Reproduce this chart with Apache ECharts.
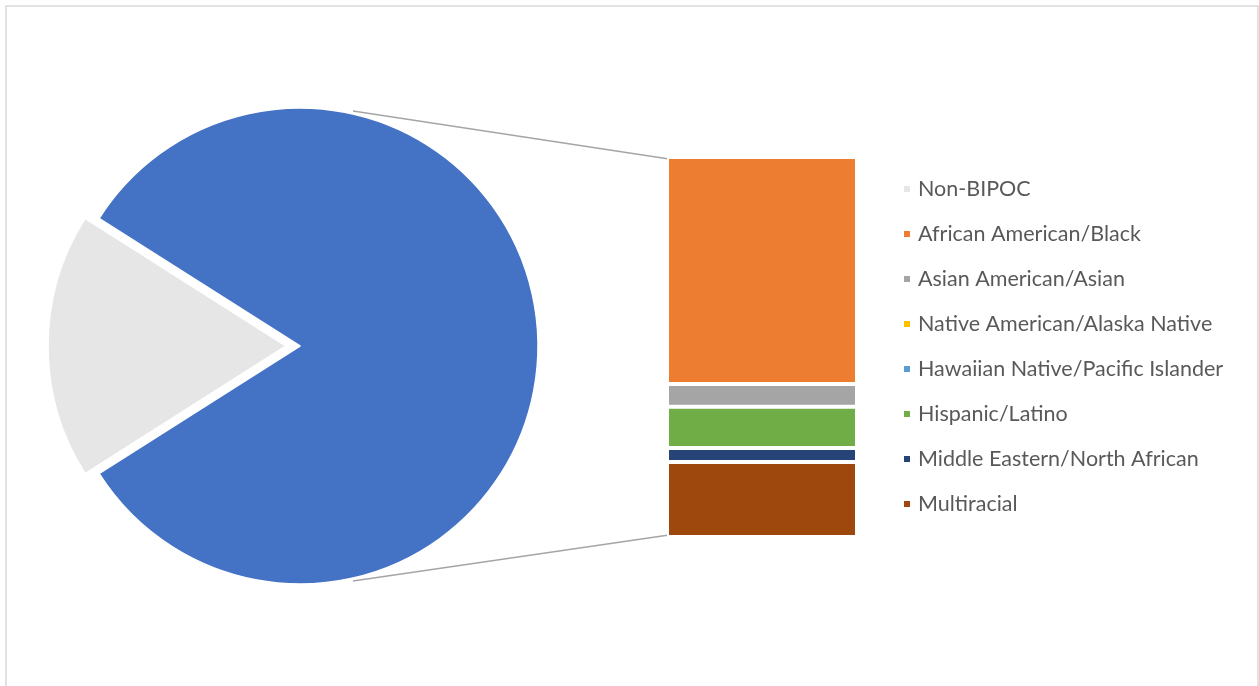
<!DOCTYPE html>
<html>
<head>
<meta charset="utf-8">
<script src="https://cdn.jsdelivr.net/npm/echarts@6/dist/echarts.min.js"></script>
<style>
  html, body { margin: 0; padding: 0; background: #fff; }
  #main { width: 1259px; height: 686px; }
</style>
</head>
<body>
<div id="main"></div>
<script>
// pie: Non-BIPOC vs the rest (the rest is split out in the bar)
var pieName = 'Non-BIPOC';
var pieValue = 18.0;

// bar of pie breakdown (percent)
var barNames = [
  'African American/Black',
  'Asian American/Asian',
  'Native American/Alaska Native',
  'Hawaiian Native/Pacific Islander',
  'Hispanic/Latino',
  'Middle Eastern/North African',
  'Multiracial'
];
var barValues = [49.0, 4.9, 0, 0, 8.9, 3.0, 16.2];
var barColors = ['#ED7D31', '#A5A5A5', '#FFC000', '#5B9BD5', '#70AD47', '#264478', '#9E480E'];

var otherTotal = barValues.reduce(function (a, b) { return a + b; }, 0);
var total = otherTotal + pieValue;

var chart = echarts.init(document.getElementById('main'));

var pieCx = 300, pieCy = 346, pieR = 238;
// keep the small slice centred on the left side
var startAngle = 180 - (pieValue / total) * 180;

var gridLeft = 667, gridTop = 157, gridW = 190, gridH = 380;

// stack drawn top-down: first name on top
var series = [];
for (var i = barNames.length - 1; i >= 0; i--) {
  series.push({
    name: barNames[i],
    type: 'bar',
    stack: 'other',
    barWidth: '100%',
    data: [barValues[i]],
    itemStyle: { color: barColors[i], borderColor: '#fff', borderWidth: 2 },
    emphasis: { disabled: true },
    silent: true
  });
}

series.push({
  type: 'pie',
  center: [pieCx, pieCy],
  radius: pieR,
  startAngle: startAngle,
  clockwise: true,
  selectedMode: 'single',
  selectedOffset: 14,
  label: { show: false },
  labelLine: { show: false },
  emphasis: { disabled: true },
  itemStyle: { borderColor: '#fff', borderWidth: 1.5 },
  data: [
    { name: 'BIPOC', value: otherTotal, itemStyle: { color: '#4472C4' } },
    { name: pieName, value: pieValue, selected: true, itemStyle: { color: '#E7E6E6' } }
  ]
});

var option = {
  animation: false,
  backgroundColor: '#fff',
  grid: { left: gridLeft, top: gridTop, width: gridW, height: gridH },
  xAxis: { type: 'category', data: [''], show: false },
  yAxis: { type: 'value', min: 0, max: otherTotal, show: false },
  legend: {
    orient: 'vertical',
    left: 902,
    top: 177,
    padding: 0,
    itemWidth: 8,
    itemHeight: 8,
    itemGap: 21,
    icon: 'rect',
    selectedMode: false,
    data: [pieName].concat(barNames),
    textStyle: {
      fontFamily: 'Lato',
      fontSize: 21.5,
      lineHeight: 24,
      color: '#595959',
      padding: [0, 0, 0, 2]
    }
  },
  series: series
};
chart.setOption(option);

// connector lines from the pie edge to the bar corners
var topY = chart.convertToPixel({ gridIndex: 0 }, [0, otherTotal])[1] + 2;
var botY = chart.convertToPixel({ gridIndex: 0 }, [0, 0])[1] - 2;
var barX = gridLeft + 2;
var a = 77.3 * Math.PI / 180;
var pr = pieR + 3;
chart.setOption({
  graphic: [
    {
      type: 'rect',
      shape: { x: 6, y: 6, width: 1252, height: 700 },
      style: { fill: 'none', stroke: '#D9D9D9', lineWidth: 1.5 },
      silent: true
    },
    {
      type: 'line',
      shape: { x1: pieCx + pr * Math.cos(a), y1: pieCy - pr * Math.sin(a), x2: barX, y2: topY },
      style: { stroke: '#A5A5A5', lineWidth: 1.5 },
      silent: true
    },
    {
      type: 'line',
      shape: { x1: pieCx + pr * Math.cos(a), y1: pieCy + pr * Math.sin(a), x2: barX, y2: botY },
      style: { stroke: '#A5A5A5', lineWidth: 1.5 },
      silent: true
    }
  ]
});
</script>
</body>
</html>
